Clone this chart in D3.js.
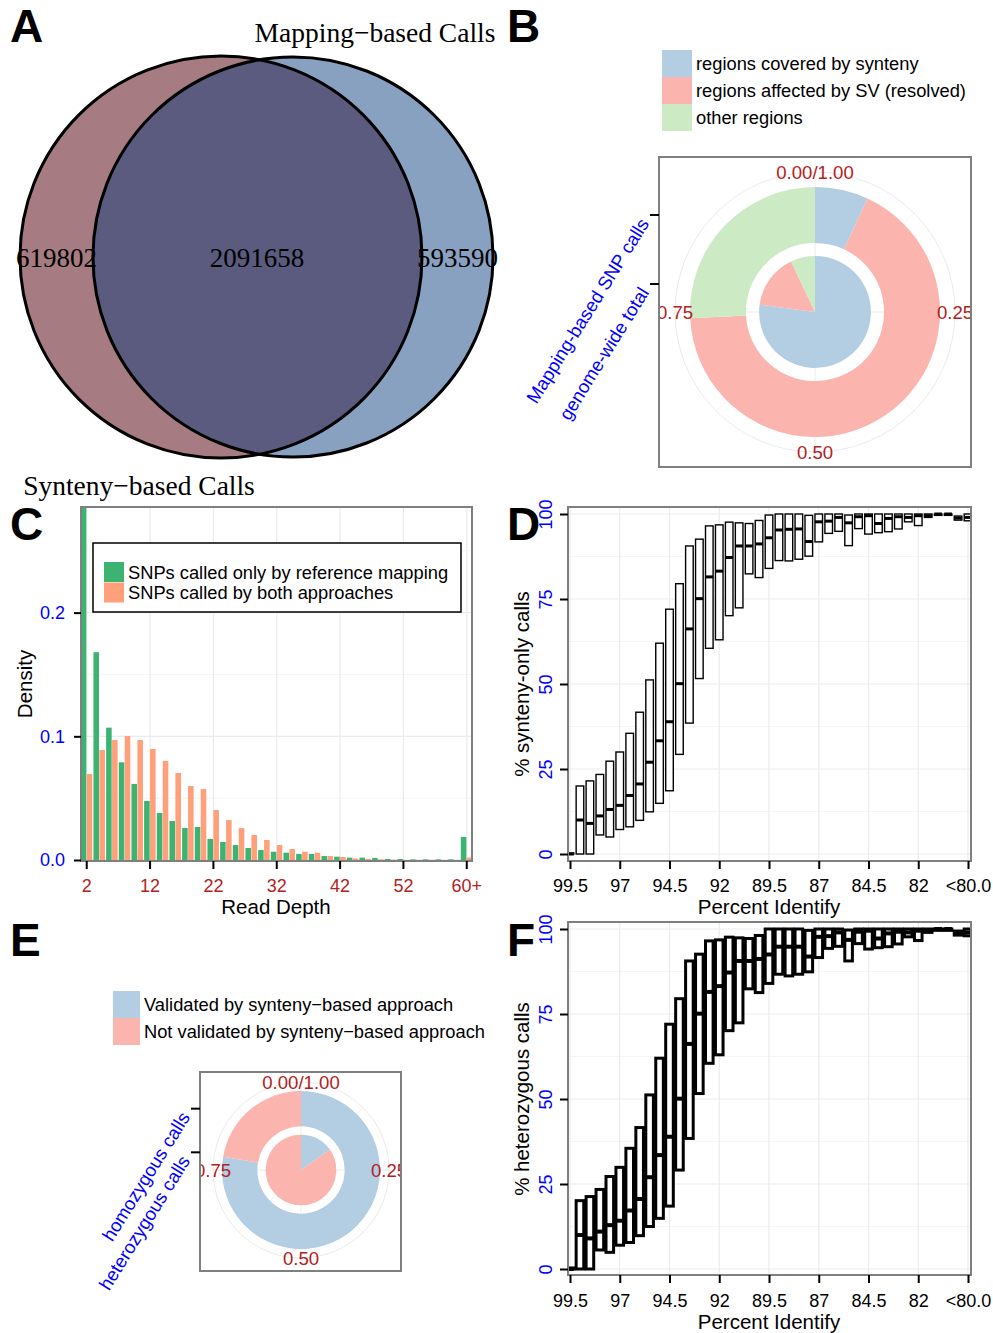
<!DOCTYPE html>
<html>
<head>
<meta charset="utf-8">
<script src="https://cdn.jsdelivr.net/npm/d3@7"></script>
<style>
  body { margin: 0; background: #fff; }
</style>
</head>
<body>
<svg id="fig" width="993" height="1333"></svg>
<script>
// ---- data ----
const vennTitles = ['Synteny−based Calls', 'Mapping−based Calls'];
const vennCounts = [619802, 2091658, 593590]; // synteny only, both, mapping only

const regionKinds = ['regions covered by synteny', 'regions affected by SV (resolved)', 'other regions'];
const regionRings = ['genome-wide total', 'Mapping-based SNP calls'];
const genomeWideShare = [0.771, 0.159, 0.07];
const mappingSnpShare = [0.069, 0.673, 0.258];

const polarTicks = [0, 0.25, 0.5, 0.75];
const polarTickLabels = ['0.00/1.00', '0.25', '0.50', '0.75'];

const depthBins = ['2', '4', '6', '8', '10', '12', '14', '16', '18', '20', '22', '24', '26', '28', '30', '32',
  '34', '36', '38', '40', '42', '44', '46', '48', '50', '52', '54', '56', '58', '60', '60+'];
const depthTickLabels = ['2', '12', '22', '32', '42', '52', '60+'];
const densityOnlyRef = [0.31, 0.168, 0.107, 0.079, 0.0615, 0.0477, 0.038, 0.0315, 0.0259, 0.0267, 0.017, 0.0146,
  0.0121, 0.0097, 0.0081, 0.0067, 0.0059, 0.0049, 0.0049, 0.0032, 0.0027, 0.0019, 0.0019, 0.0016, 0.0008, 0.0008,
  0.0005, 0.0005, 0.0005, 0.0005, 0.0186];
const densityBoth = [0.0695, 0.0889, 0.097, 0.1003, 0.097, 0.0898, 0.0801, 0.0704, 0.0598, 0.0574, 0.0404, 0.0323,
  0.0259, 0.0202, 0.0162, 0.0121, 0.0089, 0.0067, 0.0059, 0.0032, 0.0024, 0.0013, 0.0008, 0.0005, 0.0003, 0.0001,
  0.0001, 0.0001, 0.0001, 0.0001, 0.0019];
const densityTicks = [0, 0.1, 0.2];
const depthSeries = ['SNPs called only by reference mapping', 'SNPs called by both approaches'];

const identityBins = ['99.5', '99', '98.5', '98', '97.5', '97', '96.5', '96', '95.5', '95', '94.5', '94', '93.5',
  '93', '92.5', '92', '91.5', '91', '90.5', '90', '89.5', '89', '88.5', '88', '87.5', '87', '86.5', '86', '85.5',
  '85', '84.5', '84', '83.5', '83', '82.5', '82', '81.5', '81', '80.5', '80', '<80.0'];
const identityTickLabels = ['99.5', '97', '94.5', '92', '89.5', '87', '84.5', '82', '<80.0'];
const pctTicks = [0, 25, 50, 75, 100];

const synQ1 = [0, 0, 0, 5.6, 5, 7.2, 8, 9.9, 12.4, 14.9, 18.6, 29.3, 38.5, 51.6, 60.5, 63, 70.1, 72.4, 82.4, 81.3,
  84, 86.3, 86.2, 86.7, 87.6, 91.8, 94.3, 94.9, 90.7, 95.7, 94.1, 94.5, 94.8, 95.6, 97.7, 96.6, 99, 99.6, 99.6, 98.2, 98];
const synMed = [0, 10, 9, 11.2, 13.1, 14.3, 17.2, 20.6, 27, 33.3, 38.9, 50.1, 66.2, 75.1, 81.5, 83.2, 87.2, 90.6,
  90.6, 91.2, 93, 95.3, 95.5, 95.6, 91.9, 97.7, 97.9, 99, 97.4, 99.2, 99.5, 97.2, 98.7, 99.2, 99, 99.5, 99.5, 100,
  100, 98.8, 99];
const synQ3 = [0.3, 20, 21.5, 23.4, 27.3, 30, 35.5, 41.7, 51.2, 62, 72, 79.5, 90.6, 92.6, 96.5, 96.8, 97.6, 97.4,
  97.2, 98.1, 99.7, 100, 100, 100, 99.6, 100, 100, 100, 99.7, 100, 100, 100, 100, 100, 100, 100, 100, 100, 100, 99.4, 100];

const hetQ1 = [0, 0, 0, 5.6, 4.9, 7, 7.8, 9.8, 12.5, 14.9, 18.5, 29.1, 38.4, 51.6, 60.5, 63, 70.1, 72.4, 82.4, 81.3,
  84, 86.7, 86.2, 86.7, 87.4, 91.6, 94.3, 94.9, 90.6, 95.7, 94.1, 94.5, 94.8, 95.6, 97.7, 96.6, 99, 99.6, 99.6, 98.2, 98];
const hetMed = [0, 10, 9, 11, 12.9, 14.2, 17.2, 20.6, 27, 33.5, 38.9, 50.1, 66.2, 75.1, 81.5, 83.2, 87.2, 90.6,
  90.6, 91.2, 92.5, 94.8, 94.8, 94.8, 91.9, 97.7, 97.9, 99, 96.8, 99.2, 99.5, 97.2, 98.7, 99.2, 99, 99.5, 99.5, 100,
  100, 98.8, 99];
const hetQ3 = [0.3, 20.1, 21.3, 23.4, 27.2, 29.9, 35.5, 41.6, 51.2, 62, 72, 79.5, 90.6, 92.6, 96.5, 96.8, 97.6, 97.4,
  97.2, 98.1, 100, 100, 100, 100, 99.6, 100, 100, 100, 99.7, 100, 100, 100, 100, 100, 100, 100, 100, 100, 100, 99.4, 100];

const validKinds = ['Validated by synteny−based approach', 'Not validated by synteny−based approach'];
const validRings = ['heterozygous calls', 'homozygous calls'];
const heterozygousShare = [0.152, 0.848];
const homozygousShare = [0.777, 0.223];

// ---- styles ----
const sans = "'Liberation Sans', Arial, Helvetica, sans-serif";
const serif = "'Liberation Serif', 'Times New Roman', serif";
const pastel = ['#B3CDE3', '#FBB4AE', '#CCEBC5'];
const gridMajor = '#EBEBEB';
const gridMinor = '#F5F5F5';
const frameGray = '#7F7F7F';
const tickRed = '#B22222';
const axisBlue = '#0000FF';
const legendSize = 18.3;
const tickSize = 18;
const titleSize = 20.5;

const svg = d3.select('#fig');
svg.append('rect').attr('width', 993).attr('height', 1333).attr('fill', '#fff');

function styleAxis(sel, color, size) {
  sel.select('.domain').remove();
  sel.selectAll('.tick line').attr('stroke', '#000').attr('stroke-width', 2);
  sel.selectAll('.tick text').attr('fill', color).attr('font-size', size).attr('font-family', sans);
}

function frame(g, x, y, w, h) {
  g.append('rect')
    .attr('x', x).attr('y', y).attr('width', w).attr('height', h)
    .attr('fill', 'none').attr('stroke', frameGray).attr('stroke-width', 2);
}

// ---- A: venn ----
function drawVenn() {
  const g = svg.append('g');
  const sizeLeft = vennCounts[0] + vennCounts[1];
  const sizeRight = vennCounts[2] + vennCounts[1];
  const rad = d3.scaleSqrt().domain([0, Math.max(sizeLeft, sizeRight)]).range([0, 201]);
  const cy = 257;
  const circles = [
    { cx: 221, r: rad(sizeLeft), fill: '#A67B81' },
    { cx: 293, r: rad(sizeRight), fill: '#88A1C0' }
  ];

  g.append('clipPath').attr('id', 'vennLeft')
    .append('circle').attr('cx', circles[0].cx).attr('cy', cy).attr('r', circles[0].r);

  g.selectAll('.venn').data(circles).enter().append('circle')
    .attr('cx', (d) => d.cx).attr('cy', cy).attr('r', (d) => d.r).attr('fill', (d) => d.fill);

  g.append('circle')
    .attr('cx', circles[1].cx).attr('cy', cy).attr('r', circles[1].r)
    .attr('clip-path', 'url(#vennLeft)').attr('fill', '#5A5B7E');

  g.selectAll('.vennLine').data(circles).enter().append('circle')
    .attr('cx', (d) => d.cx).attr('cy', cy).attr('r', (d) => d.r)
    .attr('fill', 'none').attr('stroke', '#000').attr('stroke-width', 3);

  const L = circles[0], R = circles[1];
  const labelX = [
    ((L.cx - L.r) + (R.cx - R.r)) / 2,
    (L.cx + R.cx) / 2,
    ((L.cx + L.r) + (R.cx + R.r)) / 2
  ];
  g.selectAll('.count').data(vennCounts).enter().append('text')
    .attr('x', (d, i) => labelX[i]).attr('y', cy + 10)
    .attr('text-anchor', 'middle').attr('font-family', serif).attr('font-size', 27)
    .text((d) => d);

  g.append('text').attr('x', 375).attr('y', 42).attr('text-anchor', 'middle')
    .attr('font-family', serif).attr('font-size', 27.5).text(vennTitles[1]);
  g.append('text').attr('x', 139).attr('y', 495).attr('text-anchor', 'middle')
    .attr('font-family', serif).attr('font-size', 27.5).text(vennTitles[0]);
}

// ---- B / E: polar donut ----
function drawPolar(o) {
  const g = svg.append('g');
  const clipId = o.id + 'Clip';
  g.append('clipPath').attr('id', clipId).append('rect')
    .attr('x', o.box[0]).attr('y', o.box[1]).attr('width', o.box[2]).attr('height', o.box[3]);
  const inner = g.append('g').attr('clip-path', `url(#${clipId})`);
  const center = inner.append('g').attr('transform', `translate(${o.cx},${o.cy})`);

  const r = d3.scaleBand().domain(o.rings).range([0, o.outer]).paddingInner(0.19).paddingOuter(0);

  // grid
  const spokes = d3.range(0, 1, 0.125);
  center.selectAll('.spoke').data(spokes).enter().append('line')
    .attr('x1', 0).attr('y1', 0)
    .attr('x2', (d) => o.gridR * Math.sin(d * 2 * Math.PI))
    .attr('y2', (d) => -o.gridR * Math.cos(d * 2 * Math.PI))
    .attr('stroke', (d, i) => (i % 2 ? gridMinor : gridMajor)).attr('stroke-width', 1);
  center.append('circle').attr('r', o.gridR).attr('fill', 'none').attr('stroke', gridMajor).attr('stroke-width', 1);

  const pie = d3.pie().sort(null).value((d) => d);
  o.rings.forEach((ring, i) => {
    const arc = d3.arc().innerRadius(r(ring)).outerRadius(r(ring) + r.bandwidth());
    center.selectAll(`.ring${i}`).data(pie(o.shares[i])).enter().append('path')
      .attr('d', arc).attr('fill', (d, j) => pastel[j]);
  });

  center.selectAll('.ang').data(polarTicks).enter().append('text')
    .attr('x', (d) => o.gridR * Math.sin(d * 2 * Math.PI))
    .attr('y', (d) => -o.gridR * Math.cos(d * 2 * Math.PI))
    .attr('dy', '0.36em').attr('text-anchor', 'middle')
    .attr('font-family', sans).attr('font-size', 18.6).attr('fill', tickRed)
    .text((d, i) => polarTickLabels[i]);

  frame(g, ...o.box);

  // radial axis
  const axis = g.selectAll('.ringTick').data(o.rings).enter().append('g')
    .attr('transform', (d) => `translate(${o.box[0]},${o.cy - r(d) - r.bandwidth() / 2})`);
  axis.append('line').attr('x1', -9).attr('x2', 0).attr('stroke', '#000').attr('stroke-width', 2);
  axis.append('text')
    .attr('transform', 'translate(-15,5) rotate(-58)')
    .attr('dy', '0.36em').attr('text-anchor', 'end')
    .attr('font-family', sans).attr('font-size', 18.6).attr('fill', axisBlue)
    .text((d) => d);

  // legend
  const leg = g.selectAll('.leg').data(o.legend).enter().append('g')
    .attr('transform', (d, i) => `translate(${o.legendAt[0]},${o.legendAt[1] + i * o.keyH})`);
  leg.append('rect').attr('width', o.keyW).attr('height', o.keyH).attr('fill', (d, i) => pastel[i]);
  leg.append('text').attr('x', o.keyW + 4).attr('y', o.keyH / 2).attr('dy', '0.36em')
    .attr('font-family', sans).attr('font-size', legendSize).text((d) => d);
}

// ---- C: read depth densities ----
function drawDensity() {
  const g = svg.append('g');
  const box = [81, 507, 391, 354];
  const x = d3.scaleBand().domain(depthBins).range([80.4, 473.1]).paddingInner(0.06).paddingOuter(0.03);
  const sub = d3.scaleBand().domain(depthSeries).range([0, x.bandwidth()]);
  const y = d3.scaleLinear().domain([0, 0.2854]).range([860, 507]);

  g.append('clipPath').attr('id', 'cClip').append('rect')
    .attr('x', box[0]).attr('y', box[1]).attr('width', box[2]).attr('height', box[3]);
  const plot = g.append('g').attr('clip-path', 'url(#cClip)');

  plot.selectAll('.hminor').data([0.05, 0.15, 0.25]).enter().append('line')
    .attr('x1', box[0]).attr('x2', box[0] + box[2]).attr('y1', (d) => y(d)).attr('y2', (d) => y(d))
    .attr('stroke', gridMinor).attr('stroke-width', 1);
  plot.selectAll('.hmajor').data(densityTicks).enter().append('line')
    .attr('x1', box[0]).attr('x2', box[0] + box[2]).attr('y1', (d) => y(d)).attr('y2', (d) => y(d))
    .attr('stroke', gridMajor).attr('stroke-width', 1.2);
  plot.selectAll('.vmajor').data(depthTickLabels).enter().append('line')
    .attr('x1', (d) => x(d) + x.bandwidth() / 2).attr('x2', (d) => x(d) + x.bandwidth() / 2)
    .attr('y1', box[1]).attr('y2', box[1] + box[3])
    .attr('stroke', gridMajor).attr('stroke-width', 1.2);

  const series = [
    { name: depthSeries[0], values: densityOnlyRef, color: '#3CB371' },
    { name: depthSeries[1], values: densityBoth, color: '#FFA07A' }
  ];
  series.forEach((s) => {
    plot.selectAll(null).data(s.values).enter().append('rect')
      .attr('x', (d, i) => x(depthBins[i]) + sub(s.name))
      .attr('width', sub.bandwidth() - 0.4)
      .attr('y', (d) => y(d))
      .attr('height', (d) => y(0) - y(d))
      .attr('fill', s.color);
  });

  frame(g, ...box);

  const xAxis = g.append('g').attr('transform', `translate(0,${box[1] + box[3]})`)
    .call(d3.axisBottom(x).tickValues(depthTickLabels).tickSize(8).tickPadding(10));
  styleAxis(xAxis, tickRed, tickSize);

  const yAxis = g.append('g').attr('transform', `translate(${box[0]},0)`)
    .call(d3.axisLeft(y).tickValues(densityTicks).tickFormat(d3.format('.1f')).tickSize(7).tickPadding(9));
  styleAxis(yAxis, axisBlue, tickSize);

  g.append('text').attr('x', 276).attr('y', 914).attr('text-anchor', 'middle')
    .attr('font-family', sans).attr('font-size', titleSize).text('Read Depth');
  g.append('text').attr('transform', 'translate(32,684) rotate(-90)').attr('text-anchor', 'middle')
    .attr('font-family', sans).attr('font-size', titleSize).text('Density');

  // legend
  g.append('rect').attr('x', 93).attr('y', 543).attr('width', 368).attr('height', 69)
    .attr('fill', '#fff').attr('stroke', '#000').attr('stroke-width', 1.5);
  const leg = g.selectAll('.cleg').data(series).enter().append('g')
    .attr('transform', (d, i) => `translate(104,${562 + i * 20.5})`);
  leg.append('rect').attr('width', 20).attr('height', 20).attr('fill', (d) => d.color);
  leg.append('text').attr('x', 24).attr('y', 10).attr('dy', '0.36em')
    .attr('font-family', sans).attr('font-size', legendSize).text((d) => d.name);
}

// ---- D / F: boxes by percent identity ----
function drawBoxes(o) {
  const g = svg.append('g');
  const box = o.box;
  const x = d3.scalePoint().domain(identityBins).range([570, 968]);
  const y = d3.scaleLinear().domain([0, 100]).range([o.y0, o.y100]);
  const w = 7.6;

  g.append('clipPath').attr('id', o.id + 'Clip').append('rect')
    .attr('x', box[0]).attr('y', box[1]).attr('width', box[2]).attr('height', box[3]);
  const plot = g.append('g').attr('clip-path', `url(#${o.id}Clip)`);

  plot.selectAll('.hminor').data([12.5, 37.5, 62.5, 87.5]).enter().append('line')
    .attr('x1', box[0]).attr('x2', box[0] + box[2]).attr('y1', (d) => y(d)).attr('y2', (d) => y(d))
    .attr('stroke', gridMinor).attr('stroke-width', 1);
  plot.selectAll('.hmajor').data(pctTicks).enter().append('line')
    .attr('x1', box[0]).attr('x2', box[0] + box[2]).attr('y1', (d) => y(d)).attr('y2', (d) => y(d))
    .attr('stroke', gridMajor).attr('stroke-width', 1.2);
  plot.selectAll('.vmajor').data(identityTickLabels).enter().append('line')
    .attr('x1', (d) => x(d)).attr('x2', (d) => x(d)).attr('y1', box[1]).attr('y2', box[1] + box[3])
    .attr('stroke', gridMajor).attr('stroke-width', 1.2);

  const rows = identityBins.map((k, i) => ({ k, q1: o.q1[i], med: o.med[i], q3: o.q3[i] }));
  plot.selectAll('.bx').data(rows).enter().append('rect')
    .attr('x', (d) => x(d.k) - w / 2).attr('width', w)
    .attr('y', (d) => y(d.q3)).attr('height', (d) => Math.max(0.5, y(d.q1) - y(d.q3)))
    .attr('fill', '#fff').attr('stroke', '#000').attr('stroke-width', o.stroke);
  plot.selectAll('.md').data(rows).enter().append('line')
    .attr('x1', (d) => x(d.k) - w / 2).attr('x2', (d) => x(d.k) + w / 2)
    .attr('y1', (d) => y(d.med)).attr('y2', (d) => y(d.med))
    .attr('stroke', '#000').attr('stroke-width', o.medStroke);

  frame(g, ...box);

  const xAxis = g.append('g').attr('transform', `translate(0,${box[1] + box[3]})`)
    .call(d3.axisBottom(x).tickValues(identityTickLabels).tickSize(8).tickPadding(o.xPad));
  styleAxis(xAxis, '#000', tickSize);

  const yAxis = g.append('g').attr('transform', `translate(${box[0]},0)`)
    .call(d3.axisLeft(y).tickValues(pctTicks).tickSize(8));
  styleAxis(yAxis, axisBlue, tickSize);
  yAxis.selectAll('.tick text')
    .attr('transform', 'rotate(-90)').attr('x', 0).attr('y', -16).attr('dy', 0)
    .attr('text-anchor', 'middle');

  g.append('text').attr('x', 769).attr('y', o.titleY).attr('text-anchor', 'middle')
    .attr('font-family', sans).attr('font-size', titleSize).text('Percent Identify');
  g.append('text').attr('transform', `translate(529,${(o.y0 + o.y100) / 2}) rotate(-90)`)
    .attr('text-anchor', 'middle').attr('font-family', sans).attr('font-size', titleSize).text(o.ylab);
}

drawVenn();

drawPolar({
  id: 'b', box: [659, 157, 312, 310], cx: 815, cy: 312, outer: 125, gridR: 140,
  rings: regionRings, shares: [genomeWideShare, mappingSnpShare],
  legend: regionKinds, legendAt: [662, 50], keyW: 30, keyH: 27
});

drawDensity();

drawBoxes({
  id: 'd', box: [568, 507, 403, 354], y0: 854, y100: 514, q1: synQ1, med: synMed, q3: synQ3,
  stroke: 1.4, medStroke: 3, xPad: 10, titleY: 914, ylab: '% synteny-only calls'
});

drawPolar({
  id: 'e', box: [200, 1072, 201, 199], cx: 301, cy: 1170, outer: 79, gridR: 88,
  rings: validRings, shares: [heterozygousShare, homozygousShare],
  legend: validKinds, legendAt: [113, 991], keyW: 27, keyH: 27
});

drawBoxes({
  id: 'f', box: [568, 922, 403, 353], y0: 1269, y100: 929, q1: hetQ1, med: hetMed, q3: hetQ3,
  stroke: 3, medStroke: 4, xPad: 11, titleY: 1329, ylab: '% heterozygous calls'
});

// panel letters
const letters = [['A', 10, 42], ['B', 507, 42], ['C', 10, 540], ['D', 507, 540], ['E', 10, 956], ['F', 507, 956]];
svg.selectAll('.letter').data(letters).enter().append('text')
  .attr('x', (d) => d[1]).attr('y', (d) => d[2])
  .attr('font-family', sans).attr('font-weight', 'bold').attr('font-size', 46)
  .text((d) => d[0]);
</script>
</body>
</html>
